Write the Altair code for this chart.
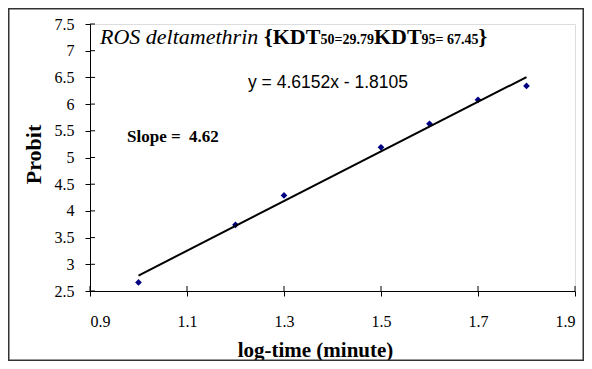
import altair as alt
import pandas as pd

log_time = [1.0, 1.2, 1.3, 1.5, 1.6, 1.7, 1.8]
probit = [2.66, 3.74, 4.29, 5.19, 5.63, 6.08, 6.34]
x_ticks = [0.9, 1.1, 1.3, 1.5, 1.7, 1.9]
y_ticks = [2.5, 3, 3.5, 4, 4.5, 5, 5.5, 6, 6.5, 7, 7.5]

df = pd.DataFrame({"x": log_time, "y": probit})
xt = pd.DataFrame({"v": x_ticks})
yt = pd.DataFrame({"v": y_ticks})

W, H = 485, 267
SERIF = "Liberation Serif"
SANS = "Liberation Sans"

xscale = alt.Scale(domain=[0.9, 1.9], nice=False, zero=False)
yscale = alt.Scale(domain=[2.5, 7.5], nice=False, zero=False)

xaxis = alt.Axis(values=x_ticks, format=".1f", title="log-time (minute)", labelOverlap=False,
                 grid=False, domainColor="black", tickColor="black", tickSize=5,
                 labelFont=SERIF, labelFontSize=16, labelColor="black", labelPadding=17,
                 titleFont=SERIF, titleFontSize=21, titleFontWeight="bold", titleColor="black",
                 titleX=225, titleY=59, titleBaseline="middle", titleAnchor="middle")
yaxis = alt.Axis(values=y_ticks, format=".1~f", title="Probit", labelOverlap=False,
                 grid=False, domainColor="black", tickColor="black", tickSize=5,
                 labelFont=SERIF, labelFontSize=16, labelColor="black", labelPadding=11,
                 titleFont=SERIF, titleFontSize=22, titleFontWeight="bold", titleColor="black",
                 titleX=-57, titleY=130, titleAngle=270, titleAlign="center",
                 titleBaseline="middle")

base = alt.Chart(df)

points = base.mark_point(shape="diamond", filled=True, color="#000080", size=45, opacity=1).encode(
    x=alt.X("x:Q", scale=xscale, axis=xaxis),
    y=alt.Y("y:Q", scale=yscale, axis=yaxis),
)

fit = base.transform_regression("x", "y").mark_line(color="black", strokeWidth=2).encode(
    x=alt.X("x:Q", scale=xscale, axis=xaxis),
    y=alt.Y("y:Q", scale=yscale, axis=yaxis),
)

inner_x = alt.Chart(xt).mark_rule(color="black").encode(
    x=alt.X("v:Q", scale=xscale, axis=xaxis), y=alt.value(H - 5), y2=alt.value(H))
inner_y = alt.Chart(yt).mark_rule(color="black").encode(
    y=alt.Y("v:Q", scale=yscale, axis=yaxis), x=alt.value(0), x2=alt.value(5))

one = pd.DataFrame({"a": [0]})

def txt(s, x, y, font=SERIF, size=16, weight="normal", style="normal", align="left"):
    return alt.Chart(one).mark_text(text=s, font=font, fontSize=size, fontWeight=weight,
                                    fontStyle=style, align=align, baseline="alphabetic",
                                    color="black").encode(x=alt.value(x), y=alt.value(y))

title_parts = [
    txt("ROS deltamethrin", 10, 20, size=22, style="italic"),
    txt("{KDT", 174, 20, size=22, weight="bold"),
    txt("50=29.79", 230.4, 20, size=14, weight="bold"),
    txt("KDT", 283.9, 20, size=22, weight="bold"),
    txt("95= 67.45", 331.6, 20, size=14, weight="bold"),
    txt("}", 388.6, 20, size=22, weight="bold"),
]
eq = txt("y = 4.6152x - 1.8105", 238, 64, font=SANS, size=17.5, align="center")
slope = txt("Slope = \u00a04.62", 37, 118, size=17, weight="bold")

border = alt.Chart(one).mark_rect(fill="white", fillOpacity=0, stroke="#333", strokeWidth=1.5).encode(
    x=alt.value(-81.25), x2=alt.value(W + 8.25), y=alt.value(-15.25), y2=alt.value(H + 69.25))

chart = alt.layer(border, points, fit, inner_x, inner_y, eq, slope, *title_parts).properties(
    width=W, height=H,
    autosize=alt.AutoSizeParams(type="none"),
    padding={"left": 82, "top": 16, "right": 9, "bottom": 70},
).configure_view(stroke=None).configure(background="white")

chart.save("out.html", embed_options={"renderer": "svg", "actions": False})
